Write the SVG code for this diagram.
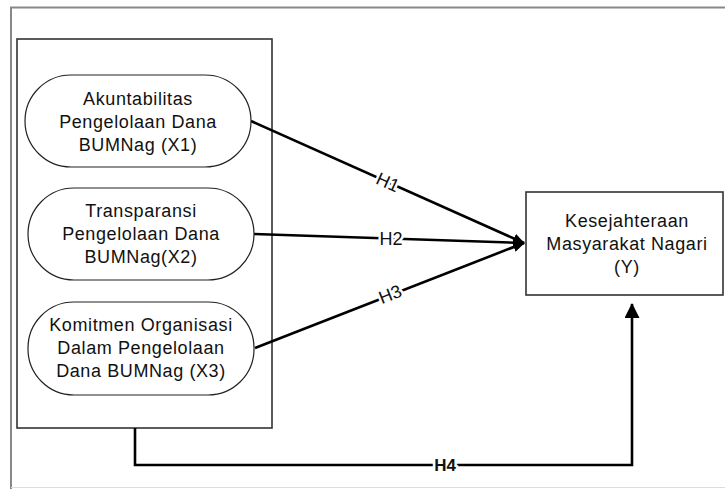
<svg xmlns="http://www.w3.org/2000/svg" width="725" height="489" viewBox="0 0 725 489">
<style>
text{font-family:"Liberation Sans",Arial,sans-serif;font-size:18px;fill:#111;letter-spacing:0.6px;text-anchor:middle}
.lbl{paint-order:stroke;stroke:#fff;stroke-width:5px;stroke-linejoin:round;letter-spacing:0}
.stad{fill:#fff;stroke:#222;stroke-width:1.2}
.box{fill:none;stroke:#333;stroke-width:1.6}
.con{fill:none;stroke:#000;stroke-width:2.6}
</style>
<defs>
<marker id="ah" viewBox="0 0 12 10" refX="11" refY="5" markerWidth="12" markerHeight="10" markerUnits="userSpaceOnUse" orient="auto">
<path d="M0,0 L12,5 L0,10 Z" fill="#000"/>
</marker>
<marker id="ah4" viewBox="0 0 15 15" refX="14" refY="7.5" markerWidth="15" markerHeight="15" markerUnits="userSpaceOnUse" orient="auto">
<path d="M0,0 L15,7.5 L0,15 Z" fill="#000"/>
</marker>
</defs>
<rect width="725" height="489" fill="#fff"/>
<g id="frame">
<path d="M11,489 V7.5 H725" fill="none" stroke="#888" stroke-width="2"/>
<line x1="11" y1="487.5" x2="725" y2="487.5" stroke="#ddd" stroke-width="1"/>
</g>
<g id="group-x">
<rect class="box" x="17" y="39" width="255" height="389"/>
</g>
<g id="connectors">
<line class="con" x1="251" y1="121" x2="524" y2="243" marker-end="url(#ah)"/>
<line class="con" x1="254" y1="234" x2="524" y2="243" marker-end="url(#ah)"/>
<line class="con" x1="255" y1="348" x2="524" y2="243" marker-end="url(#ah)"/>
<path class="con" d="M135,428 V465 H632 V304" marker-end="url(#ah4)"/>
<text class="lbl" transform="translate(388,182) rotate(24.1)" y="6.5">H1</text>
<text class="lbl" x="391" y="245">H2</text>
<text class="lbl" transform="translate(390,294) rotate(-21.3)" y="6.5">H3</text>
<text class="lbl" x="445" y="471" style="font-weight:bold;font-size:17px">H4</text>
</g>
<g id="x1">
<rect class="stad" x="25" y="75" width="226" height="92" rx="46" ry="46"/>
<text x="138" y="105">Akuntabilitas</text>
<text x="138" y="128">Pengelolaan Dana</text>
<text x="138" y="151">BUMNag (X1)</text>
</g>
<g id="x2">
<rect class="stad" x="28" y="188" width="226" height="92" rx="46" ry="46"/>
<text x="141" y="217">Transparansi</text>
<text x="141" y="240">Pengelolaan Dana</text>
<text x="141" y="263">BUMNag(X2)</text>
</g>
<g id="x3">
<rect class="stad" x="28" y="302" width="226" height="93" rx="46" ry="46"/>
<text x="141" y="331">Komitmen Organisasi</text>
<text x="141" y="354">Dalam Pengelolaan</text>
<text x="141" y="377">Dana BUMNag (X3)</text>
</g>
<g id="y">
<rect class="box" x="526" y="192" width="197" height="103" fill="#fff"/>
<text x="627" y="227">Kesejahteraan</text>
<text x="627" y="250">Masyarakat Nagari</text>
<text x="627" y="273">(Y)</text>
</g>
</svg>
